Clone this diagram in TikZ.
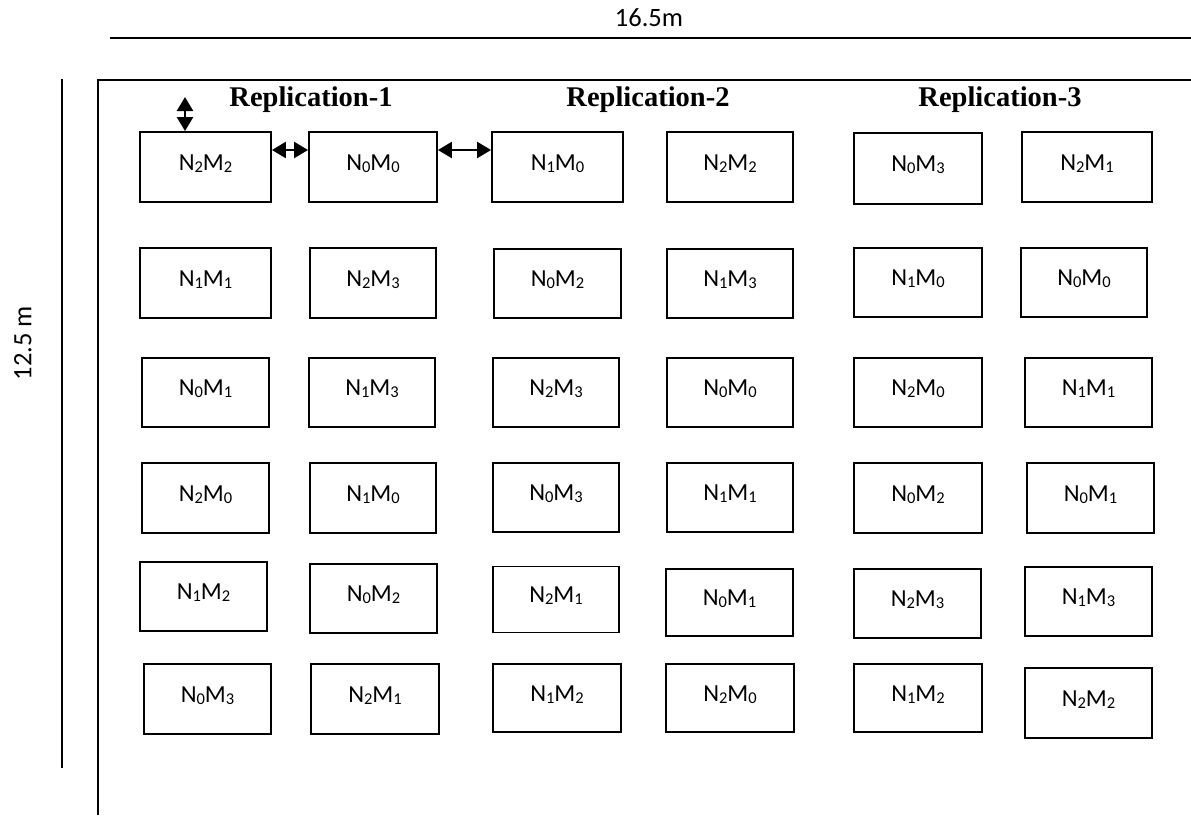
\documentclass[tikz,border=0pt]{standalone}
\usepackage{fontspec}
\setmainfont{Carlito}
\newfontfamily\titlefont{Liberation Serif}
\usetikzlibrary{arrows.meta}
\newcommand{\sbn}[1]{\raisebox{-2.2pt}{\fontsize{16.5}{16.5}\selectfont #1}}
\newcommand{\NM}[2]{N\sbn{#1}M\sbn{#2}}
\begin{document}
\begin{tikzpicture}[x=1pt,y=-1pt,
  plotbox/.style={draw, line width=1.9pt, inner sep=0pt, font=\fontsize{24.5}{24.5}\selectfont,
    text height=17pt, text depth=11pt},
  reptitle/.style={font=\titlefont\bfseries\fontsize{28.5}{28.5}\selectfont, anchor=base, inner sep=0pt},
  dimtext/.style={font=\fontsize{26.5}{26.5}\selectfont, inner sep=0pt},
  dimline/.style={line width=2.2pt},
  frameline/.style={line width=2pt, line join=miter},
  dblarrow/.style={line width=2.4pt, {Triangle[length=14pt,width=16pt]}-{Triangle[length=14pt,width=16pt]}}
]
\useasboundingbox (0,0) rectangle (1191,815);

% dimension lines
\coordinate (t1) at (110,38);
\coordinate (t2) at (1191,38);
\draw[dimline] (t1) -- (t2);
\node[dimtext, anchor=base] (lenlabel) at (649,26) {16.5m};
\coordinate (l1) at (62,79);
\coordinate (l2) at (62,768);
\draw[dimline] (l1) -- (l2);
\node[dimtext, rotate=90] (widlabel) at (23,343) {12.5 m};

% frame
\coordinate (f1) at (98,815);
\coordinate (f2) at (98,80);
\coordinate (f3) at (1191,80);
\draw[frameline] (f1) -- (f2) -- (f3);

% titles
\node[reptitle] (r1) at (311,106) {Replication-1};
\node[reptitle] (r2) at (648,106) {Replication-2};
\node[reptitle] (r3) at (1000,106) {Replication-3};

% row 1
\node[plotbox, minimum width=131pt, minimum height=70pt] (a1) at (205.5,167) {\NM22};
\node[plotbox, minimum width=128pt, minimum height=70pt] (a2) at (373,167) {\NM00};
\node[plotbox, minimum width=131pt, minimum height=70pt] (a3) at (557.5,167) {\NM10};
\node[plotbox, minimum width=126pt, minimum height=70pt] (a4) at (730,167) {\NM22};
\node[plotbox, minimum width=128pt, minimum height=71pt] (a5) at (918,168.5) {\NM03};
\node[plotbox, minimum width=130pt, minimum height=70pt] (a6) at (1087,167) {\NM21};
% row 2
\node[plotbox, minimum width=131pt, minimum height=70pt] (b1) at (205.5,283) {\NM11};
\node[plotbox, minimum width=126pt, minimum height=70pt] (b2) at (373,283) {\NM23};
\node[plotbox, minimum width=127pt, minimum height=69pt] (b3) at (557.5,283.5) {\NM02};
\node[plotbox, minimum width=126pt, minimum height=69pt] (b4) at (730,283.5) {\NM13};
\node[plotbox, minimum width=128pt, minimum height=69pt] (b5) at (918,282.5) {\NM10};
\node[plotbox, minimum width=126pt, minimum height=69pt] (b6) at (1084,282.5) {\NM00};
% row 3
\node[plotbox, minimum width=127pt, minimum height=69pt] (c1) at (205.5,392.5) {\NM01};
\node[plotbox, minimum width=126pt, minimum height=69pt] (c2) at (372,392.5) {\NM13};
\node[plotbox, minimum width=126pt, minimum height=69pt] (c3) at (556,392.5) {\NM23};
\node[plotbox, minimum width=126pt, minimum height=69pt] (c4) at (730,392.5) {\NM00};
\node[plotbox, minimum width=128pt, minimum height=69pt] (c5) at (918,392.5) {\NM20};
\node[plotbox, minimum width=127pt, minimum height=69pt] (c6) at (1088.5,392.5) {\NM11};
% row 4
\node[plotbox, minimum width=127pt, minimum height=70pt] (d1) at (205.5,498) {\NM20};
\node[plotbox, minimum width=126pt, minimum height=70pt] (d2) at (373,498) {\NM10};
\node[plotbox, minimum width=126pt, minimum height=69pt] (d3) at (556,497.5) {\NM03};
\node[plotbox, minimum width=126pt, minimum height=69pt] (d4) at (730,497.5) {\NM11};
\node[plotbox, minimum width=128pt, minimum height=70pt] (d5) at (918,498) {\NM02};
\node[plotbox, minimum width=127pt, minimum height=70pt] (d6) at (1090.5,498) {\NM01};
% row 5
\node[plotbox, minimum width=127pt, minimum height=69pt] (e1) at (203.5,596.5) {\NM12};
\node[plotbox, minimum width=127pt, minimum height=69pt] (e2) at (373.5,598.5) {\NM02};
\node[plotbox, minimum width=126pt, minimum height=66pt] (e3) at (556,599.5) {\NM21};
\node[plotbox, minimum width=127pt, minimum height=67pt] (e4) at (729.5,602.5) {\NM01};
\node[plotbox, minimum width=127pt, minimum height=69pt] (e5) at (917.5,603.5) {\NM23};
\node[plotbox, minimum width=127pt, minimum height=69pt] (e6) at (1088.5,601.5) {\NM13};
% row 6
\node[plotbox, minimum width=127pt, minimum height=70pt] (g1) at (207.5,699) {\NM03};
\node[plotbox, minimum width=128pt, minimum height=70pt] (g2) at (375,699) {\NM21};
\node[plotbox, minimum width=128pt, minimum height=68pt] (g3) at (557,698) {\NM12};
\node[plotbox, minimum width=128pt, minimum height=68pt] (g4) at (730,698) {\NM20};
\node[plotbox, minimum width=128pt, minimum height=68pt] (g5) at (918,698) {\NM12};
\node[plotbox, minimum width=127pt, minimum height=70pt] (g6) at (1088.5,703) {\NM22};

% spacing arrows
\coordinate (va) at (185,97);
\draw[dblarrow] (va) -- (va |- a1.north);
\draw[dblarrow] ([yshift=17pt]a1.east) -- ([yshift=17pt]a2.west);
\draw[dblarrow] ([yshift=17pt]a2.east) -- ([yshift=17pt]a3.west);
\end{tikzpicture}
\end{document}
